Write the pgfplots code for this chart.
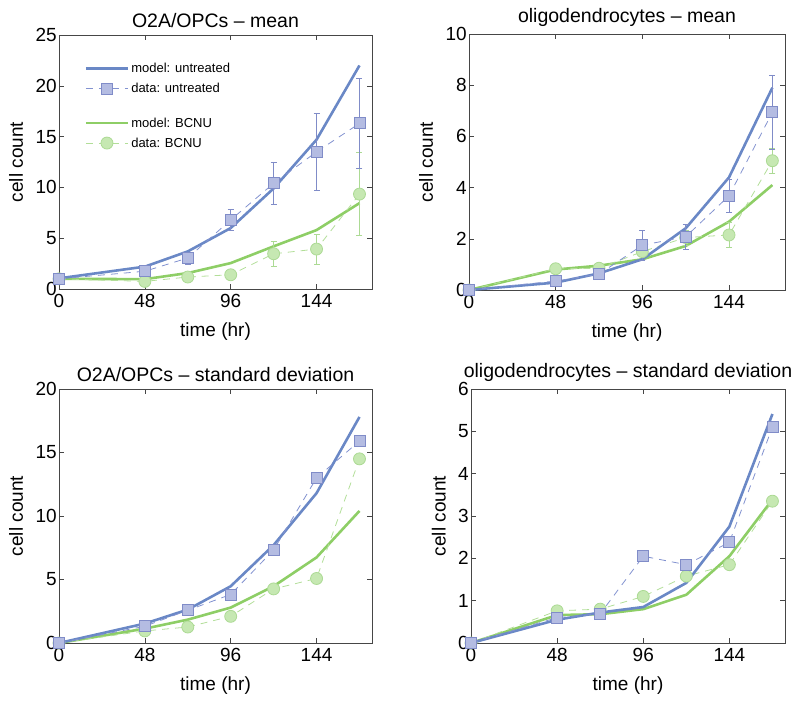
\documentclass[border=0pt]{standalone}
\usepackage{pgfplots}
\pgfplotsset{compat=1.18}
\usepackage{fontspec}
\setmainfont{Liberation Sans}
\definecolor{axiscol}{RGB}{70,70,70}
\definecolor{blueline}{RGB}{106,136,198}
\definecolor{sqfill}{RGB}{180,188,226}
\definecolor{sqedge}{RGB}{128,140,200}
\definecolor{bluedash}{RGB}{130,146,208}
\definecolor{greenline}{RGB}{142,206,102}
\definecolor{cifill}{RGB}{198,232,178}
\definecolor{ciedge}{RGB}{172,218,148}
\definecolor{greendash}{RGB}{178,222,152}
\pgfplotsset{
  myax/.style={
    scale only axis,
    xmin=0, xmax=175,
    xtick={0,48,96,144},
    axis line style={draw=axiscol, line width=0.8pt},
    tick style={draw=axiscol, line width=0.6pt},
    tick align=inside,
    major tick length=5pt,
    tick pos=both,
    /pgf/number format/assume math mode=true,
    tick label style={font=\fontsize{19}{22}\selectfont, text=black},
    yticklabel style={inner sep=2pt},
    xticklabel style={inner sep=5pt},
    label style={font=\fontsize{19}{22}\selectfont},
    title style={font=\fontsize{19.5}{22}\selectfont, yshift=-2pt},
    xlabel={time (hr)},
    ylabel={cell count},
    xlabel style={yshift=-7pt},
    ylabel style={yshift=7pt},
    legend image code/.code={\draw[mark repeat=2,mark phase=2,##1] plot coordinates {(0pt,0pt)(21pt,0pt)(42pt,0pt)};},
  },
  modelU/.style={draw=blueline, line width=2.6pt, mark=none},
  modelB/.style={draw=greenline, line width=2.6pt, mark=none},
  dataU/.style={draw=bluedash, line width=0.8pt, dash pattern=on 7pt off 6pt,
    mark=square*, mark size=5.5pt, mark options={solid, fill=sqfill, draw=sqedge, line width=0.8pt}},
  dataB/.style={draw=greendash, line width=0.8pt, dash pattern=on 7pt off 6pt,
    mark=*, mark size=6pt, mark options={solid, fill=cifill, draw=ciedge, line width=0.8pt}},
  ebU/.style={error bars/.cd, y dir=both, y explicit,
    error bar style={draw=sqedge, line width=0.6pt, solid},
    error mark options={rotate=90, mark size=3pt, draw=sqedge, line width=0.6pt, solid},
    /pgfplots/.cd},
  ebB/.style={error bars/.cd, y dir=both, y explicit,
    error bar style={draw=ciedge, line width=0.6pt, solid},
    error mark options={rotate=90, mark size=3pt, draw=ciedge, line width=0.6pt, solid},
    /pgfplots/.cd},
}
\begin{document}
\begin{tikzpicture}[x=1pt,y=1pt]
\useasboundingbox (0,0) rectangle (800,-702);

% ---------- top left ----------
\begin{axis}[myax, at={(59pt,-35pt)}, anchor=north west, width=313pt, height=254pt,
  ymin=0, ymax=25, ytick={0,5,10,15,20,25},
  title={O2A/OPCs -- mean},
  legend style={at={(0.075,0.905)}, anchor=north west, draw=none, fill=none,
    font=\fontsize{13}{15}\selectfont, row sep=5pt, inner sep=2pt},
  legend cell align=left]
\addlegendimage{modelU}\addlegendentry{model: untreated}
\addlegendimage{dataU}\addlegendentry{data: untreated}
\addlegendimage{empty legend}\addlegendentry{\rule{0pt}{4pt}}
\addlegendimage{modelB}\addlegendentry{model: BCNU}
\addlegendimage{dataB}\addlegendentry{data: BCNU}
\addplot[forget plot, modelB] coordinates {(0,1.0) (48,0.97) (72,1.57) (96,2.55) (120,4.2) (144,5.8) (168,8.45)};
\addplot[forget plot, dataB, ebB] coordinates {(0,1.0) +- (0,0.1) (48,0.75) +- (0,0.3) (72,1.18) +- (0,0.35) (96,1.4) +- (0,0.3) (120,3.47) +- (0,1.2) (144,3.93) +- (0,1.45) (168,9.34) +- (0,4.1)};
\addplot[forget plot, modelU] coordinates {(0,1.05) (48,2.2) (72,3.7) (96,6.0) (120,9.9) (144,14.7) (168,22.0)};
\addplot[forget plot, dataU, ebU] coordinates {(0,1.0) +- (0,0.1) (48,1.75) +- (0,0.4) (72,3.05) +- (0,0.6) (96,6.8) +- (0,1.05) (120,10.4) +- (0,2.05) (144,13.5) +- (0,3.75) (168,16.3) +- (0,4.4)};
\end{axis}

% ---------- top right ----------
\begin{axis}[myax, at={(469pt,-34pt)}, anchor=north west, width=316pt, height=256pt,
  ymin=0, ymax=10, ytick={0,2,4,6,8,10},
  title={oligodendrocytes -- mean}]
\addplot[modelB] coordinates {(0,0) (48,0.8) (72,0.95) (96,1.2) (120,1.72) (144,2.67) (168,4.1)};
\addplot[dataB, ebB] coordinates {(0,0) +- (0,0.02) (48,0.83) +- (0,0.1) (72,0.85) +- (0,0.1) (96,1.5) +- (0,0.2) (120,2.05) +- (0,0.3) (144,2.15) +- (0,0.5) (168,5.05) +- (0,0.5)};
\addplot[modelU] coordinates {(0,0) (48,0.29) (72,0.65) (96,1.2) (120,2.41) (144,4.4) (168,7.9)};
\addplot[dataU, ebU] coordinates {(0,0) +- (0,0.02) (48,0.35) +- (0,0.1) (72,0.62) +- (0,0.1) (96,1.75) +- (0,0.6) (120,2.08) +- (0,0.48) (144,3.68) +- (0,0.63) (168,6.94) +- (0,1.45)};
\end{axis}

% ---------- bottom left ----------
\begin{axis}[myax, at={(59pt,-389pt)}, anchor=north west, width=313pt, height=254pt,
  ymin=0, ymax=20, ytick={0,5,10,15,20},
  title={O2A/OPCs -- standard deviation}]
\addplot[modelB] coordinates {(0,0) (48,1.13) (72,1.84) (96,2.79) (120,4.47) (144,6.74) (168,10.4)};
\addplot[dataB] coordinates {(0,0) (48,0.95) (72,1.26) (96,2.1) (120,4.26) (144,5.08) (168,14.5)};
\addplot[modelU] coordinates {(0,0) (48,1.53) (72,2.63) (96,4.47) (120,7.71) (144,11.8) (168,17.8)};
\addplot[dataU] coordinates {(0,0) (48,1.32) (72,2.58) (96,3.82) (120,7.32) (144,13.0) (168,15.9)};
\end{axis}

% ---------- bottom right ----------
\begin{axis}[myax, at={(471pt,-389pt)}, anchor=north west, width=314pt, height=254pt,
  ymin=0, ymax=6, ytick={0,1,2,3,4,5,6},
  title={oligodendrocytes -- standard deviation}]
\addplot[modelB] coordinates {(0,0) (48,0.66) (72,0.68) (96,0.8) (120,1.14) (144,2.05) (168,3.39)};
\addplot[dataB] coordinates {(0,0) (48,0.76) (72,0.8) (96,1.1) (120,1.58) (144,1.85) (168,3.35)};
\addplot[modelU] coordinates {(0,0) (48,0.55) (72,0.72) (96,0.85) (120,1.42) (144,2.75) (168,5.41)};
\addplot[dataU] coordinates {(0,0) (48,0.6) (72,0.69) (96,2.05) (120,1.85) (144,2.38) (168,5.1)};
\end{axis}
\end{tikzpicture}
\end{document}
